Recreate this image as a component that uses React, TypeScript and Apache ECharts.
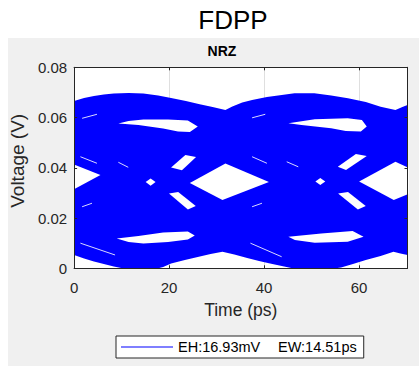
import React, { useEffect, useRef } from "react";
import * as echarts from "echarts";

// ---- axes ----
const X_MIN = 0;
const X_MAX = 70.2;
const X_STEP = 20;
const Y_MIN = 0;
const Y_MAX = 0.08;
const Y_STEP = 0.02;

// ---- texts ----
const FIG_TITLE = "FDPP";
const AX_TITLE = "NRZ";
const X_NAME = "Time (ps)";
const Y_NAME = "Voltage (V)";
const EYE_HEIGHT = "EH:16.93mV";
const EYE_WIDTH = "EW:14.51ps";

// ---- eye diagram trace bundle: outer envelopes [time ps, volts] ----
const upperEnvelope: number[][] = [
  [0, 0.0666], [2.1, 0.0678], [4.18, 0.0686], [6.26, 0.0692], [8.35, 0.0696],
  [11.47, 0.0698], [14.59, 0.0696], [17.71, 0.0688], [20.42, 0.0678], [23.54, 0.0666],
  [26.45, 0.0653], [29.16, 0.0642], [31.86, 0.063], [33.32, 0.0644], [35.4, 0.066],
  [37.48, 0.067], [40.6, 0.0682], [43.72, 0.069], [46.42, 0.0697], [50.58, 0.0697],
  [54.13, 0.0688], [57.67, 0.0677], [61.42, 0.0662], [64.54, 0.0643], [67.66, 0.063],
  [69.12, 0.0642], [70.2, 0.065],
];
const lowerEnvelope: number[][] = [
  [0, 0.0053], [2.1, 0.0039], [4.18, 0.0027], [6.26, 0.0017], [8.35, 0.0007],
  [10.43, -0.0001], [12.51, -0.0005], [16.67, -0.0005], [18.75, 0.0005], [20.42, 0.0019],
  [23.33, 0.0033], [26.03, 0.0045], [28.74, 0.0057], [31.24, 0.0066], [33.74, 0.0055],
  [36.45, 0.0041], [38.94, 0.0029], [41.02, 0.002], [43.72, 0.0009], [46.22, -0.0001],
  [48.93, -0.0005], [53.09, -0.0005], [56.21, 0.0003], [58.71, 0.0017], [61.42, 0.0033],
  [64.54, 0.0049], [67.25, 0.0066], [68.71, 0.0059], [70.2, 0.0053],
];

// ---- eye openings (areas no trace passes) ----
const topEye1: number[][] = [
  [9.32, 0.0576], [11.47, 0.0586], [14.59, 0.0592], [19.79, 0.0592], [23.95, 0.0588],
  [26.04, 0.0564], [24.38, 0.0542], [21.88, 0.0544], [18.75, 0.0556], [13.55, 0.057],
];
const topEye2: number[][] = [
  [45.12, 0.0577], [50.66, 0.0593], [57.61, 0.0597], [60.6, 0.059], [61.62, 0.0564],
  [60.37, 0.0544], [57.2, 0.0546], [54.13, 0.0557], [47.88, 0.057],
];
const bottomEye1: number[][] = [
  [8.97, 0.0119], [13.55, 0.0129], [18.75, 0.0142], [23.95, 0.0146], [25.41, 0.0131],
  [23.95, 0.0115], [19.79, 0.0105], [14.59, 0.0099], [11.47, 0.0105],
];
const bottomEye2: number[][] = [
  [45.12, 0.0126], [52.05, 0.0139], [58.65, 0.0148], [60.94, 0.0126], [57.61, 0.0106],
  [50.66, 0.0102], [46.49, 0.0113],
];
const midEye0: number[][] = [[-10, 0.035], [-3, 0.0435], [5.55, 0.0371], [-3, 0.0285]];
const midEye1: number[][] = [[24.37, 0.034], [31.86, 0.0417], [41.02, 0.0343], [31.24, 0.0272]];
const midEye2: number[][] = [[60.02, 0.0345], [67.66, 0.0424], [76.8, 0.0345], [67.31, 0.0272]];
const crossUpper1: number[][] = [[20.42, 0.0401], [23.43, 0.0451], [25.68, 0.0443], [22.71, 0.039]];
const crossUpper2: number[][] = [[55.53, 0.0404], [59.33, 0.0455], [61.62, 0.0447], [57.25, 0.0391]];
const crossLower1: number[][] = [[19.98, 0.0298], [21.92, 0.0304], [25.62, 0.0248], [23.96, 0.0234]];
const crossLower2: number[][] = [[55.59, 0.0298], [57.67, 0.0304], [61.41, 0.0248], [59.75, 0.0234]];
const centerGap1: number[][] = [[15.07, 0.0343], [16.11, 0.0357], [17.15, 0.0343], [16.11, 0.0329]];
const centerGap2: number[][] = [[50.8, 0.0345], [51.84, 0.0359], [52.88, 0.0345], [51.84, 0.0332]];

// ---- thin gaps between trace groups ----
const gapStreaks: number[][][] = [
  [[1.69, 0.0597], [4.81, 0.0613]],
  [[1.33, 0.0444], [4.81, 0.0418]],
  [[9.32, 0.0422], [11.4, 0.0402]],
  [[1.69, 0.0245], [3.77, 0.0259]],
  [[1.33, 0.01], [8.62, 0.0053]],
  [[37.48, 0.0599], [40.25, 0.0613]],
  [[37.48, 0.0444], [40.6, 0.0418]],
  [[44.77, 0.0424], [47.2, 0.0404]],
  [[37.48, 0.0245], [39.56, 0.0259]],
  [[37.13, 0.01], [43.7, 0.0046]],
];

const BLUE = "#0000ff";
const AX = "#262626";
const GRIDC = "#dfdfdf";
const FONT = "'Liberation Sans', Arial, Helvetica, sans-serif";

export default function App() {
  const ref = useRef<HTMLDivElement>(null);

  useEffect(() => {
    const chart = echarts.init(ref.current!, undefined, { renderer: "svg" });

    const bundle = [...upperEnvelope, ...[...lowerEnvelope].reverse()];
    const openings = [
      topEye1, topEye2, bottomEye1, bottomEye2, midEye0, midEye1, midEye2,
      crossUpper1, crossUpper2, crossLower1, crossLower2, centerGap1, centerGap2,
    ];
    const legendName = EYE_HEIGHT + " " + EYE_WIDTH;

    const baseX = { type: "value", min: X_MIN, max: X_MAX, interval: X_STEP, gridIndex: 0 };
    const baseY = { type: "value", min: Y_MIN, max: Y_MAX, interval: Y_STEP, gridIndex: 0 };

    chart.setOption({
      animation: false,
      backgroundColor: "#f0f0f0",
      textStyle: { fontFamily: FONT },
      graphic: [
        { type: "rect", silent: true, shape: { x: 0, y: 0, width: 419, height: 38 }, style: { fill: "#fff" } },
        { type: "rect", silent: true, shape: { x: 0, y: 38, width: 8, height: 328 }, style: { fill: "#fff" } },
        {
          type: "text", x: 233, y: 19.5, silent: true,
          style: { text: FIG_TITLE, fill: "#000", font: `26px ${FONT}`, textAlign: "center", textVerticalAlign: "middle" },
        },
        {
          type: "text", x: 222, y: 50.5, silent: true,
          style: { text: AX_TITLE, fill: "#000", font: `bold 14px ${FONT}`, textAlign: "center", textVerticalAlign: "middle" },
        },
      ],
      grid: {
        left: 70, right: 11.5, top: 67.3, bottom: 97.7,
        show: true, backgroundColor: "#fff", borderWidth: 0,
      },
      xAxis: [
        {
          ...baseX, position: "bottom", z: 0,
          axisLine: { show: false }, axisTick: { show: false }, axisLabel: { show: false },
          splitLine: { show: true, lineStyle: { color: GRIDC, width: 1 } },
        },
        {
          ...baseX, position: "bottom", z: 10,
          axisLine: { show: true, onZero: false, lineStyle: { color: AX, width: 1 } },
          axisTick: { show: true, inside: true, length: 3, lineStyle: { color: AX } },
          axisLabel: { show: true, color: AX, fontSize: 15, margin: 12, fontFamily: FONT, showMaxLabel: false },
          splitLine: { show: false },
          name: X_NAME, nameLocation: "middle", nameGap: 33,
          nameTextStyle: { color: AX, fontSize: 17.5, fontFamily: FONT },
        },
        {
          ...baseX, position: "top", z: 10,
          axisLine: { show: true, onZero: false, lineStyle: { color: AX, width: 1 } },
          axisTick: { show: true, inside: true, length: 3, lineStyle: { color: AX } },
          axisLabel: { show: false }, splitLine: { show: false },
        },
      ],
      yAxis: [
        {
          ...baseY, position: "left", z: 0,
          axisLine: { show: false }, axisTick: { show: false }, axisLabel: { show: false },
          splitLine: { show: true, lineStyle: { color: GRIDC, width: 1 } },
        },
        {
          ...baseY, position: "left", z: 10,
          axisLine: { show: true, onZero: false, lineStyle: { color: AX, width: 1 } },
          axisTick: { show: true, inside: true, length: 3, lineStyle: { color: AX } },
          axisLabel: { show: true, color: AX, fontSize: 15, margin: 7, fontFamily: FONT },
          splitLine: { show: false },
          name: Y_NAME, nameLocation: "middle", nameGap: 44,
          nameTextStyle: { color: AX, fontSize: 19, fontFamily: FONT, padding: [0, 0, 0, 14] },
        },
        {
          ...baseY, position: "right", z: 10,
          axisLine: { show: true, onZero: false, lineStyle: { color: AX, width: 1 } },
          axisTick: { show: true, inside: true, length: 3, lineStyle: { color: AX } },
          axisLabel: { show: false }, splitLine: { show: false },
        },
      ],
      legend: {
        data: [{ name: legendName, icon: "rect" }],
        left: 116,
        top: 336,
        itemWidth: 52,
        itemHeight: 1,
        padding: [3, 7, 3, 5],
        backgroundColor: "#fff",
        borderColor: AX,
        borderWidth: 1,
        borderRadius: 0,
        selectedMode: false,
        formatter: () => `{a|${EYE_HEIGHT}}{b|${EYE_WIDTH}}`,
        textStyle: {
          color: "#000",
          fontSize: 14.5,
          lineHeight: 16,
          fontFamily: FONT,
          rich: {
            a: { width: 100, fontSize: 14.5, lineHeight: 16, fontFamily: FONT, color: "#000" },
            b: { fontSize: 14.5, lineHeight: 16, fontFamily: FONT, color: "#000" },
          },
        },
      },
      series: [
        {
          type: "custom",
          name: "traces",
          xAxisIndex: 0,
          yAxisIndex: 0,
          clip: true,
          silent: true,
          z: 2,
          data: [bundle[0]],
          renderItem: (_p: any, api: any) => ({
            type: "polygon",
            shape: { points: bundle.map((pt) => api.coord(pt)) },
            style: { fill: BLUE },
          }),
        },
        {
          type: "custom",
          name: "openings",
          xAxisIndex: 0,
          yAxisIndex: 0,
          clip: true,
          silent: true,
          z: 3,
          data: openings.map((o) => o[0]),
          renderItem: (p: any, api: any) => ({
            type: "polygon",
            shape: { points: openings[p.dataIndex].map((pt) => api.coord(pt)) },
            style: { fill: "#fff" },
          }),
        },
        {
          type: "custom",
          name: "gaps",
          xAxisIndex: 0,
          yAxisIndex: 0,
          clip: true,
          silent: true,
          z: 3,
          data: gapStreaks.map((s) => s[0]),
          renderItem: (p: any, api: any) => ({
            type: "polyline",
            shape: { points: gapStreaks[p.dataIndex].map((pt) => api.coord(pt)) },
            style: { stroke: "#ffffff", opacity: 0.85, lineWidth: 1, fill: null },
          }),
        },
        {
          type: "line",
          name: legendName,
          xAxisIndex: 0,
          yAxisIndex: 0,
          data: [],
          symbol: "none",
          color: BLUE,
          itemStyle: { color: BLUE },
          lineStyle: { color: BLUE, width: 1 },
        },
      ],
    });

    return () => chart.dispose();
  }, []);

  return (
    <div
      ref={ref}
      style={{ position: "fixed", left: 0, top: 0, width: 419, height: 366 }}
    />
  );
}
